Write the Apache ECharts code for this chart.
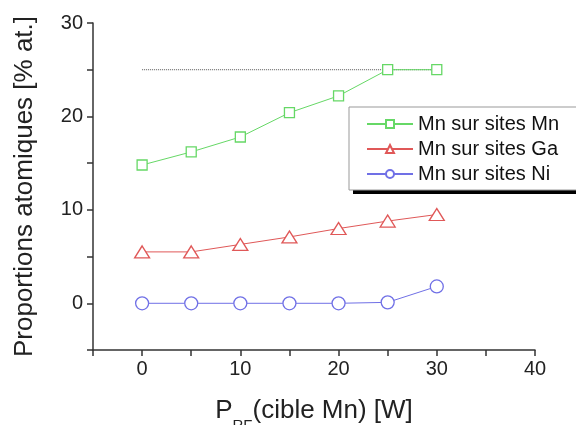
<!DOCTYPE html>
<html><head><meta charset="utf-8">
<script src="https://cdn.jsdelivr.net/npm/echarts@6/dist/echarts.min.js"></script>
<style>html,body{margin:0;padding:0;background:#fff}#c{width:576px;height:425px}</style>
</head><body><div id="c"></div>
<script>
const power = [0, 5, 10, 15, 20, 25, 30];
const mnSitesMn = [14.8, 16.2, 17.8, 20.4, 22.2, 25.0, 25.0];
const mnSitesGa = [5.5, 5.5, 6.3, 7.1, 8.0, 8.8, 9.5];
const mnSitesNi = [0.0, 0.0, 0.0, 0.0, 0.0, 0.1, 1.8];
const refLineX = [0, 30];
const refLineY = [25, 25];
const xTickLabels = [0, 10, 20, 30, 40];
const yTickLabels = [0, 10, 20, 30];
const seriesNames = ['Mn sur sites Mn', 'Mn sur sites Ga', 'Mn sur sites Ni'];

const pair = (xs, ys) => xs.map((x, i) => [x, ys[i]]);
const font = 'Liberation Sans, Arial, sans-serif';
const green = '#66d866', red = '#e05858', blue = '#7070e6';

const chart = echarts.init(document.getElementById('c'), null, {renderer: 'canvas'});
chart.setOption({
  animation: false,
  backgroundColor: '#fff',
  grid: {left: 93, top: 23, right: 41, bottom: 75, containLabel: false, outerBoundsMode: 'none'},
  graphic: [{
    type: 'rect', z: 0, left: 353, top: 111,
    shape: {width: 300, height: 83},
    style: {fill: '#000'}
  }],
  xAxis: {
    type: 'value', min: -5, max: 40, interval: 5,
    axisLine: {onZero: false, lineStyle: {color: '#333', width: 1.5}},
    axisTick: {inside: false, length: 6, lineStyle: {color: '#333', width: 1.5}},
    axisLabel: {color: '#222', fontSize: 20, fontFamily: font, margin: 9,
      formatter: v => xTickLabels.includes(v) ? String(v) : ''},
    splitLine: {show: false},
    name: '{p|P}{s|RF}{p|(cible Mn) [W]}',
    nameLocation: 'middle', nameGap: 48,
    nameTextStyle: {fontFamily: font, rich: {
      p: {fontSize: 26, color: '#222', fontFamily: font},
      s: {fontSize: 15, color: '#222', fontFamily: font, verticalAlign: 'bottom', padding: [0,0,-9,0]}
    }}
  },
  yAxis: {
    type: 'value', min: -5, max: 30, interval: 5,
    axisLine: {show: true, onZero: false, lineStyle: {color: '#333', width: 1.5}},
    axisTick: {show: true, length: 6, lineStyle: {color: '#333', width: 1.5}},
    axisLabel: {color: '#222', fontSize: 20, fontFamily: font, margin: 10,
      formatter: v => yTickLabels.includes(v) ? String(v) : ''},
    splitLine: {show: false},
    name: 'Proportions atomiques [% at.]',
    nameLocation: 'middle', nameGap: 55,
    nameTextStyle: {fontSize: 26, color: '#222', fontFamily: font}
  },
  legend: {
    data: seriesNames, z: 5,
    orient: 'vertical', left: 349, top: 107,
    padding: [7, 60, 6, 17],
    itemWidth: 46, itemHeight: 10, itemGap: 5,
    backgroundColor: '#fff', borderColor: '#999', borderWidth: 1,
    textStyle: {fontSize: 20, color: '#111', fontFamily: font, lineHeight: 20}
  },
  series: [
    {name: 'ref', type: 'line', data: pair(refLineX, refLineY), symbol: 'none',
      lineStyle: {type: 'dotted', color: '#555', width: 1}, z: 1, silent: true},
    {name: seriesNames[0], type: 'line', data: pair(power, mnSitesMn),
      symbol: 'rect', symbolSize: 10, showAllSymbol: true,
      itemStyle: {color: '#fff', borderColor: green, borderWidth: 1.3},
      lineStyle: {color: green, width: 1}},
    {name: seriesNames[1], type: 'line', data: pair(power, mnSitesGa),
      symbol: 'triangle', symbolSize: [15, 12], showAllSymbol: true,
      itemStyle: {color: '#fff', borderColor: red, borderWidth: 1.3},
      lineStyle: {color: red, width: 1}},
    {name: seriesNames[2], type: 'line', data: pair(power, mnSitesNi),
      symbol: 'circle', symbolSize: 13, showAllSymbol: true,
      itemStyle: {color: '#fff', borderColor: blue, borderWidth: 1.3},
      lineStyle: {color: blue, width: 1}}
  ]
});
</script></body></html>
